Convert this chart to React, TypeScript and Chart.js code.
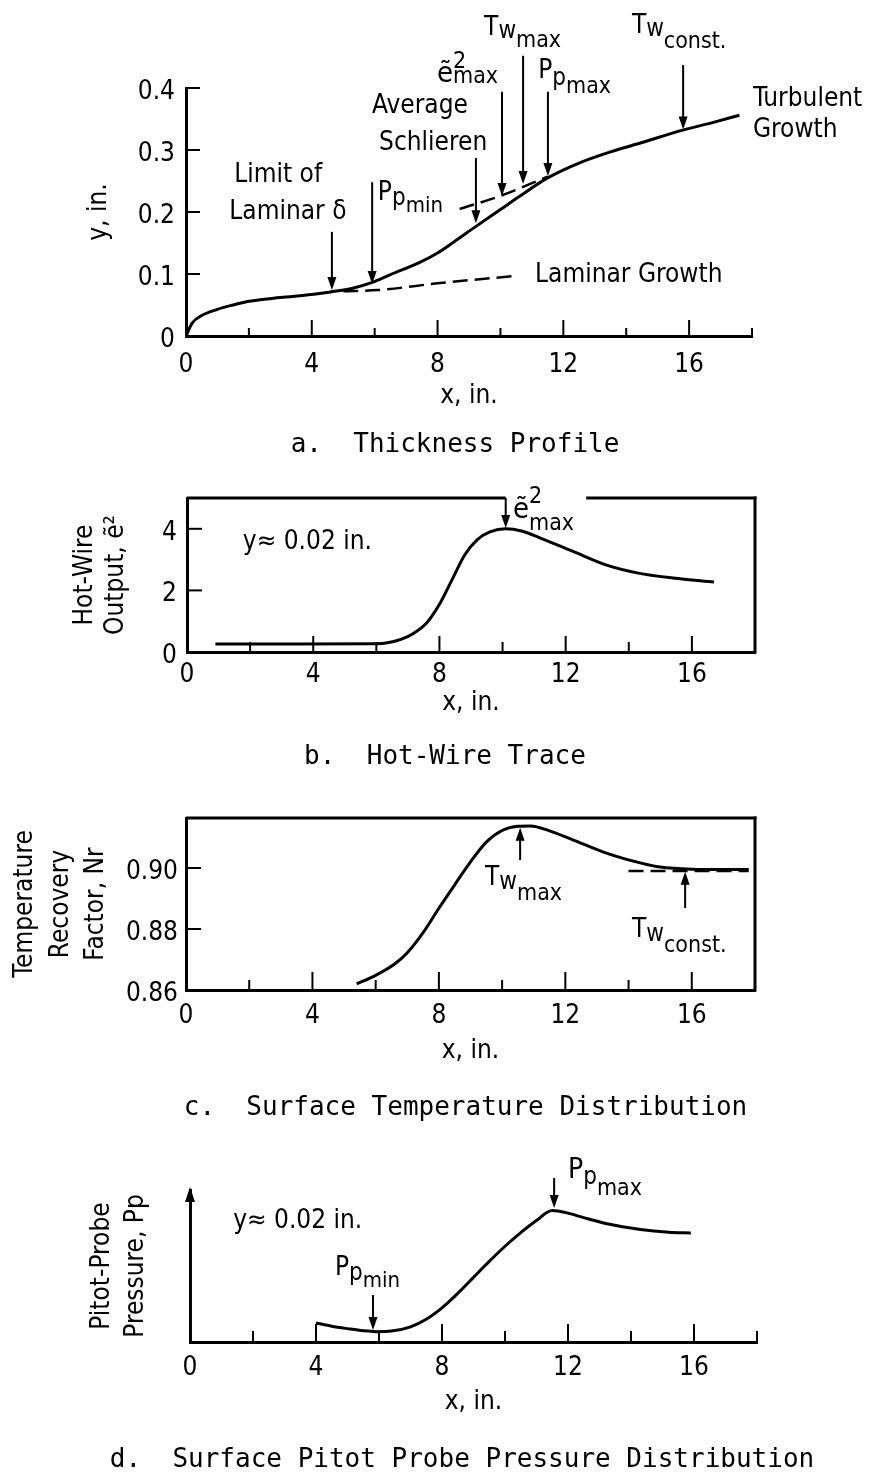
import React, { useEffect, useRef } from "react";
import { Chart, registerables } from "chart.js";

Chart.register(...registerables);

const W = 881;
const LABEL_FONT = "'DejaVu Sans Condensed', 'DejaVu Sans', sans-serif";
const CAPTION_FONT = "'DejaVu Sans Mono', monospace";
const FS = 26;

// ---------------- a. Thickness Profile ----------------
const thickX = [0, 0.2, 0.5, 1, 1.5, 2, 3, 4, 4.6, 5.3, 5.9, 6.5, 7.4, 8, 8.5, 9.2, 10, 10.6, 11.5, 12.5, 13.5, 14.5, 15.8, 16.8, 17.6];
const thickY = [0, 0.021, 0.033, 0.043, 0.05, 0.056, 0.062, 0.067, 0.071, 0.077, 0.086, 0.099, 0.118, 0.134, 0.151, 0.176, 0.204, 0.225, 0.255, 0.279, 0.297, 0.312, 0.332, 0.345, 0.356];
const laminarX = [5.0, 6.1, 8.0, 10.5];
const laminarY = [0.072, 0.074, 0.085, 0.097];
const turbDashX = [8.7, 10.0, 11.5];
const turbDashY = [0.205, 0.226, 0.257];

// ---------------- b. Hot-Wire Trace ----------------
const hotX = [0.9, 3, 6, 6.4, 6.8, 7.2, 7.6, 8.0, 8.4, 8.8, 9.2, 9.6, 10.1, 10.6, 11.2, 12.2, 13.3, 14.3, 15.4, 16.7];
const hotY = [0.26, 0.26, 0.27, 0.31, 0.42, 0.62, 0.95, 1.55, 2.35, 3.15, 3.65, 3.9, 4.0, 3.93, 3.7, 3.28, 2.82, 2.56, 2.4, 2.27];

// ---------------- c. Surface Temperature Distribution ----------------
const recX = [5.4, 6.0, 6.6, 7.0, 7.5, 8.0, 8.5, 9.0, 9.5, 10.0, 10.5, 10.9, 11.5, 12.2, 13.3, 14.4, 15.0, 16, 17, 17.8];
const recY = [0.862, 0.8648, 0.8685, 0.8722, 0.8788, 0.8868, 0.8945, 0.902, 0.9085, 0.9123, 0.9137, 0.9138, 0.9122, 0.9094, 0.9049, 0.9016, 0.9003, 0.8996, 0.8995, 0.8995];
const recConstX = [14, 17.8];
const recConstY = [0.899, 0.899];

// ---------------- d. Surface Pitot Probe Pressure ----------------
const pitotX = [4, 4.5, 5, 5.5, 5.9, 6.4, 7.0, 7.5, 8.0, 8.5, 9.0, 9.5, 10.0, 10.5, 11.0, 11.5, 12, 12.5, 13.2, 14.3, 15.2, 15.9];
const pitotY = [0.125, 0.104, 0.088, 0.074, 0.068, 0.072, 0.1, 0.15, 0.225, 0.32, 0.425, 0.53, 0.63, 0.72, 0.8, 0.865, 0.848, 0.818, 0.78, 0.74, 0.722, 0.717];

// tick label sets
const xLabeled = [0, 4, 8, 12, 16];

// annotations (data coordinates)
const aArrows = [
  { x: 4.64, from: 0.168, to: 0.074 },
  { x: 5.92, from: 0.248, to: 0.084 },
  { x: 9.22, from: 0.287, to: 0.182 },
  { x: 10.05, from: 0.394, to: 0.226 },
  { x: 10.72, from: 0.452, to: 0.245 },
  { x: 11.51, from: 0.394, to: 0.258 },
  { x: 15.81, from: 0.437, to: 0.333 },
];
const aTexts = [
  { x: 2.93, y: 0.26, align: "center", text: "Limit of" },
  { x: 3.24, y: 0.2, align: "center", text: "Laminar δ" },
  { x: 7.44, y: 0.371, align: "center", text: "Average" },
  { x: 7.86, y: 0.311, align: "center", text: "Schlieren" },
  { x: 18.03, y: 0.382, align: "left", text: "Turbulent" },
  { x: 18.03, y: 0.332, align: "left", text: "Growth" },
  { x: 11.1, y: 0.098, align: "left", text: "Laminar Growth" },
  { x: 6.1, y: 0.219, segs: [{ t: "P", size: 26 }, { t: "p", size: 24, dy: 5 }, { t: "min", size: 22, dy: 12 }] },
  { x: 7.98, y: 0.41, segs: [{ t: "ẽ", size: 29 }, { t: "2", size: 23, dy: -14 }, { t: "max", size: 23, dy: 1, stack: true }] },
  { x: 9.48, y: 0.485, segs: [{ t: "T", size: 26 }, { t: "w", size: 24, dy: 3 }, { t: "max", size: 23, dy: 12 }] },
  { x: 11.2, y: 0.416, segs: [{ t: "P", size: 26 }, { t: "p", size: 24, dy: 7 }, { t: "max", size: 23, dy: 15 }] },
  { x: 14.18, y: 0.489, segs: [{ t: "T", size: 26 }, { t: "w", size: 24, dy: 3 }, { t: "const.", size: 23, dy: 15 }] },
];
const bArrows = [{ x: 10.1, from: 5.0, to: 4.03 }];
const bTexts = [
  { x: 1.77, y: 3.57, align: "left", text: "y≈ 0.02 in." },
  { x: 10.33, y: 4.35, segs: [{ t: "ẽ", size: 29 }, { t: "2", size: 23, dy: -15 }, { t: "max", size: 23, dy: 12, stack: true }] },
];
const cArrows = [
  { x: 10.57, from: 0.9026, to: 0.9132 },
  { x: 15.79, from: 0.8869, to: 0.8988 },
];
const cTexts = [
  { x: 9.46, y: 0.8944, segs: [{ t: "T", size: 26 }, { t: "w", size: 24, dy: 4 }, { t: "max", size: 23, dy: 15 }] },
  { x: 14.11, y: 0.8774, segs: [{ t: "T", size: 26 }, { t: "w", size: 24, dy: 4 }, { t: "const.", size: 23, dy: 15 }] },
];
const dArrows = [
  { x: 5.81, from: 0.309, to: 0.079 },
  { x: 11.56, from: 1.079, to: 0.882 },
];
const dTexts = [
  { x: 1.37, y: 0.796, align: "left", text: "y≈ 0.02 in." },
  { x: 4.6, y: 0.441, segs: [{ t: "P", size: 26 }, { t: "p", size: 24, dy: 5 }, { t: "min", size: 22, dy: 12 }] },
  { x: 12.0, y: 1.079, segs: [{ t: "P", size: 28 }, { t: "p", size: 24, dy: 6 }, { t: "max", size: 23, dy: 17 }] },
];

const pts = (xs: number[], ys: number[]) => xs.map((x, i) => ({ x, y: ys[i] }));
const solid = (data: any) => ({
  data, borderColor: "#000", borderWidth: 3, pointRadius: 0, fill: false,
  cubicInterpolationMode: "monotone", xAxisID: "x", yAxisID: "y",
});
const dashed = (data: any) => ({ ...solid(data), borderWidth: 2.5, borderDash: [15, 7] });

const panels: any[] = [
  {
    key: "a", top: 0, height: 470, padL: 29, padT: 88, padB: 12, chartLeft: 186, chartRight: 752,
    xHeight: 96, xTickPad: 14, xTitlePad: 20, yTickPad: 11, yTitle: "y, in.", yTitleLH: 1.2, yTitlePad: 55,
    yMin: 0, yMax: 0.4, yStep: 0.1, yLabel: (v: number) => String(Math.round(v * 10) / 10),
    xMajor: 16, xMinor: 8, yTickLen: 14,
    caption: "a.  Thickness Profile",
    datasets: [solid(pts(thickX, thickY)), dashed(pts(laminarX, laminarY)), dashed(pts(turbDashX, turbDashY))],
    arrows: aArrows, texts: aTexts,
  },
  {
    key: "b", top: 470, height: 310, padL: 9, padT: 28, padB: 10, chartLeft: 187, chartRight: 755,
    xHeight: 92, xTickPad: 8, xTitlePad: 25, yTickPad: 10, yTitle: ["Hot-Wire", "Output, ẽ²"], yTitleLH: 1.19, yTitlePad: 61,
    yMin: 0, yMax: 5, yStep: 2, yLabel: (v: number) => (v < 5 ? String(v) : ""),
    xMajor: 16, xMinor: 10, yTickLen: 15, frame: true, topGap: [10.1, 12.65],
    caption: "b.  Hot-Wire Trace",
    datasets: [solid(pts(hotX, hotY))],
    arrows: bArrows, texts: bTexts,
  },
  {
    key: "c", top: 780, height: 350, padL: 50, padT: 38, padB: 9, chartLeft: 186, chartRight: 755,
    xHeight: 105, xTickPad: 11, xTitlePad: 28, yTickPad: 8, yTitle: ["Temperature", "Recovery", "Factor, Nr"], yTitleLH: 1.365, yTitlePad: -42,
    yMin: 0.86, yMax: 0.9164, yStep: 0.02, yLabel: (v: number) => (v > 0.915 ? "" : v.toFixed(2)),
    xMajor: 18, xMinor: 10, yTickLen: 15, frame: true,
    caption: "c.  Surface Temperature Distribution",
    datasets: [solid(pts(recX, recY)), dashed(pts(recConstX, recConstY))],
    arrows: cArrows, texts: cTexts,
  },
  {
    key: "d", top: 1130, height: 345, padL: 43, padT: 60, padB: 2, chartLeft: 190, chartRight: 757,
    xHeight: 105, xTickPad: 11, xTitlePad: 29, yTickPad: 8, yTitle: ["Pitot-Probe", "Pressure, Pp"], yTitleLH: 1.31, yTitlePad: 42,
    yMin: 0, yMax: 1, yStep: 1, yLabel: () => "", noYTicks: true, yArrow: true,
    xMajor: 18, xMinor: 11, yTickLen: 0,
    caption: "d.  Surface Pitot Probe Pressure Distribution",
    datasets: [solid(pts(pitotX, pitotY))],
    arrows: dArrows, texts: dTexts,
  },
];

function drawArrow(ctx: CanvasRenderingContext2D, x: number, y1: number, tip: number) {
  const dir = Math.sign(tip - y1) || 1;
  const hl = 13, hw = 4.5;
  ctx.lineWidth = 2;
  ctx.beginPath();
  ctx.moveTo(x, y1);
  ctx.lineTo(x, tip - dir * hl * 0.7);
  ctx.stroke();
  ctx.beginPath();
  ctx.moveTo(x, tip);
  ctx.lineTo(x - hw, tip - dir * hl);
  ctx.lineTo(x + hw, tip - dir * hl);
  ctx.closePath();
  ctx.fill();
}

function drawText(ctx: CanvasRenderingContext2D, px: number, py: number, tx: any) {
  if (tx.text) {
    ctx.font = `${tx.size || FS}px ${LABEL_FONT}`;
    ctx.textAlign = tx.align || "left";
    ctx.textBaseline = "middle";
    ctx.fillText(tx.text, px, py);
    return;
  }
  ctx.textAlign = "left";
  ctx.textBaseline = "alphabetic";
  let cursor = px;
  let prevStart = px;
  for (const sg of tx.segs) {
    ctx.font = `${sg.size || FS}px ${LABEL_FONT}`;
    const start = sg.stack ? prevStart : cursor;
    ctx.fillText(sg.t, start, py + (sg.dy || 0));
    cursor = Math.max(cursor, start + ctx.measureText(sg.t).width);
    prevStart = start;
  }
}

function annotPlugin(s: any) {
  return {
    id: "annot_" + s.key,
    afterDraw(chart: any) {
      const ctx: CanvasRenderingContext2D = chart.ctx;
      const xs = chart.scales.x;
      const ys = chart.scales.y;
      const { left, right, top, bottom } = chart.chartArea;
      const X = (v: number) => xs.getPixelForValue(v);
      const Y = (v: number) => ys.getPixelForValue(v);
      ctx.save();
      ctx.strokeStyle = "#000";
      ctx.fillStyle = "#000";
      const seg = (x1: number, y1: number, x2: number, y2: number, w: number) => {
        ctx.lineWidth = w;
        ctx.beginPath();
        ctx.moveTo(x1, y1);
        ctx.lineTo(x2, y2);
        ctx.stroke();
      };
      for (const t of xs.ticks) {
        if (t.value <= xs.min) continue;
        const len = t.value % 4 === 0 ? s.xMajor : s.xMinor;
        seg(X(t.value), bottom, X(t.value), bottom - len, 2);
      }
      if (s.yTickLen) {
        for (const t of ys.ticks) {
          if (t.value <= ys.min || !t.label) continue;
          seg(left, Y(t.value), left + s.yTickLen, Y(t.value), 2);
        }
      }
      if (s.frame) {
        if (s.topGap) {
          seg(left, top, X(s.topGap[0]), top, 3);
          seg(X(s.topGap[1]), top, right + 1.5, top, 3);
        } else {
          seg(left, top, right + 1.5, top, 3);
        }
        seg(right, top - 1.5, right, bottom + 1.5, 3);
      }
      if (s.yArrow) {
        ctx.beginPath();
        ctx.moveTo(left, top - 3);
        ctx.lineTo(left - 5, top + 12);
        ctx.lineTo(left + 5, top + 12);
        ctx.closePath();
        ctx.fill();
      }
      for (const a of s.arrows) drawArrow(ctx, X(a.x), Y(a.from), Y(a.to));
      for (const tx of s.texts) drawText(ctx, X(tx.x), Y(tx.y), tx);
      ctx.restore();
    },
  };
}

function buildConfig(s: any): any {
  const font = { family: LABEL_FONT, size: FS, lineHeight: 1.2 };
  return {
    type: "line",
    data: { datasets: s.datasets },
    options: {
      responsive: false,
      animation: false,
      devicePixelRatio: 1,
      events: [],
      layout: { padding: { left: s.padL, right: 0, top: s.padT, bottom: s.padB } },
      plugins: {
        legend: { display: false },
        tooltip: { enabled: false },
        title: {
          display: true,
          position: "bottom",
          text: s.caption,
          color: "#000",
          font: { family: CAPTION_FONT, size: 26, lineHeight: 1, weight: "normal" },
          padding: 0,
        },
      },
      scales: {
        x: {
          type: "linear",
          min: 0,
          max: 18,
          ticks: {
            stepSize: 2,
            autoSkip: false,
            maxRotation: 0,
            padding: s.xTickPad,
            color: "#000",
            font,
            callback: (v: number) => (xLabeled.includes(v) ? String(v) : ""),
          },
          grid: { display: true, drawOnChartArea: false, drawTicks: false },
          border: { display: true, color: "#000", width: 3 },
          title: { display: true, text: "x, in.", color: "#000", font, padding: { top: 0, bottom: s.xTitlePad } },
          afterFit: (sc: any) => { sc.height = s.xHeight; },
        },
        y: {
          type: "linear",
          min: s.yMin,
          max: s.yMax,
          ticks: {
            display: !s.noYTicks,
            stepSize: s.yStep,
            autoSkip: false,
            padding: s.yTickPad,
            labelOffset: 4,
            color: "#000",
            font,
            callback: s.yLabel,
          },
          grid: { display: true, drawOnChartArea: false, drawTicks: false },
          border: { display: true, color: "#000", width: 3 },
          title: {
            display: true,
            text: s.yTitle,
            color: "#000",
            font: { family: LABEL_FONT, size: FS, lineHeight: s.yTitleLH },
            padding: { top: s.yTitlePad, bottom: 0 },
          },
          afterFit: (sc: any) => { sc.width = s.chartLeft - s.padL; },
        },
        yR: {
          type: "linear",
          position: "right",
          display: true,
          grid: { display: false },
          border: { display: false },
          ticks: { display: false },
          afterFit: (sc: any) => { sc.width = W - s.chartRight; },
        },
      },
    },
    plugins: [annotPlugin(s)],
  };
}

function PanelChart({ spec }: { spec: any }) {
  const ref = useRef<HTMLCanvasElement | null>(null);
  useEffect(() => {
    if (!ref.current) return;
    const chart = new Chart(ref.current, buildConfig(spec));
    return () => chart.destroy();
  }, [spec]);
  return (
    <canvas
      ref={ref}
      width={W}
      height={spec.height}
      style={{ position: "absolute", left: 0, top: spec.top, width: W, height: spec.height }}
    />
  );
}

export default function App() {
  return (
    <div style={{ position: "absolute", left: 0, top: 0, width: W, height: 1475, background: "#fff", overflow: "hidden" }}>
      {panels.map((p) => (
        <PanelChart key={p.key} spec={p} />
      ))}
    </div>
  );
}
